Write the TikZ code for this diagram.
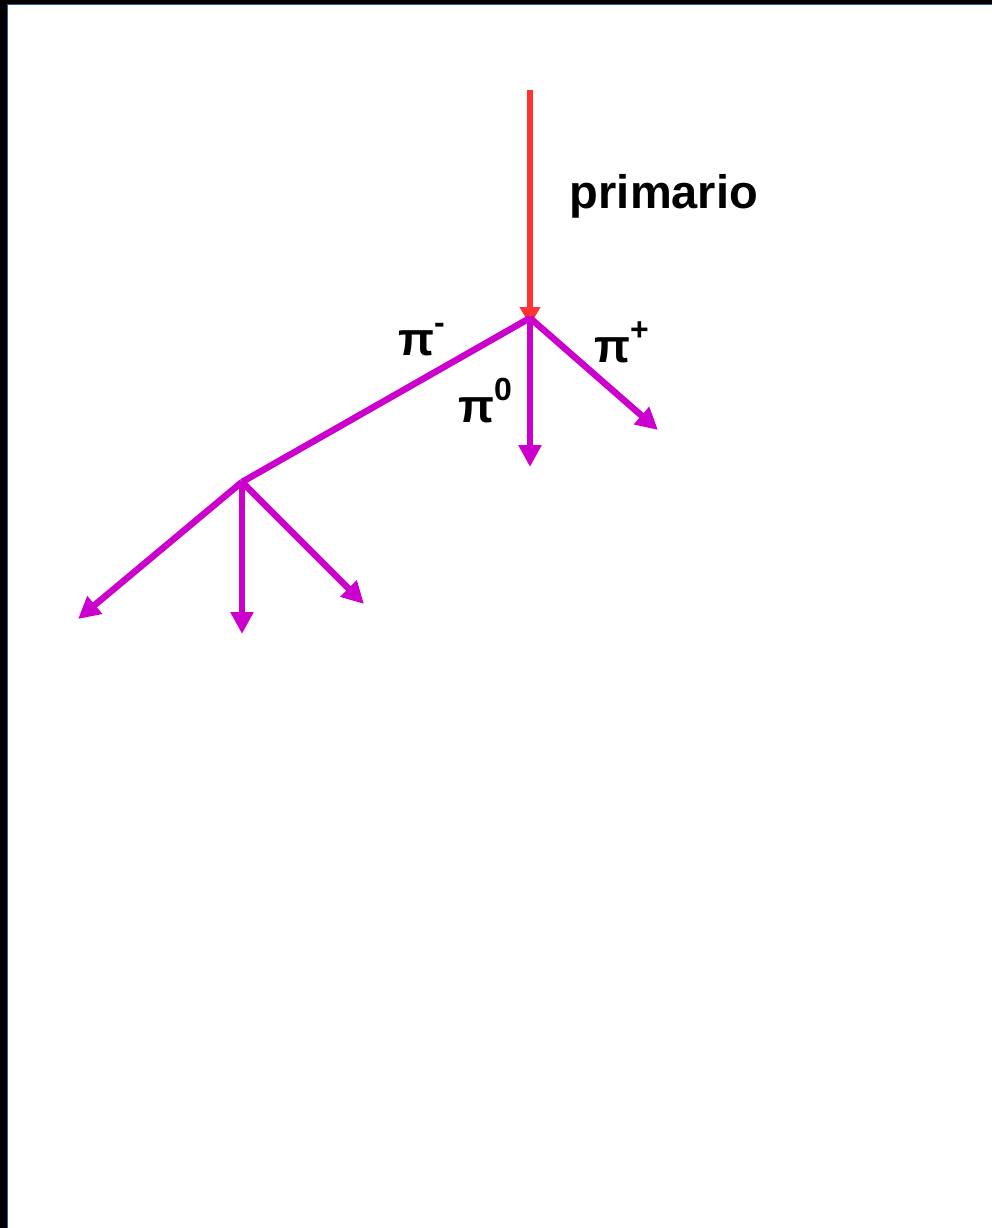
\documentclass[tikz,border=0pt]{standalone}
\usepackage{fontspec}
\setmainfont{Liberation Sans}
\usetikzlibrary{arrows.meta, positioning}
\definecolor{primred}{HTML}{FF3333}
\definecolor{pionmag}{HTML}{CC00CC}
\definecolor{framebl}{HTML}{2E5C9E}
\newcommand{\chg}[1]{\raisebox{22pt}{\fontsize{32}{32}\bfseries\selectfont #1}}

\begin{document}
\begin{tikzpicture}[
    x=1pt, y=-1pt,
    primary/.style = {draw=primred, line width=6.5pt, -{Triangle[length=18pt, width=20pt]}},
    track/.style = {draw=pionmag, line width=6.5pt, -{Triangle[length=22pt, width=22pt]}},
    plain/.style = {draw=pionmag, line width=6.5pt, line cap=butt},
    lbl/.style = {font=\fontsize{47}{56}\bfseries\selectfont, inner sep=0pt, text=black}
]
\useasboundingbox (0,0) rectangle (992,1228);

% Frame
\fill [black] (0,0) rectangle (7,1228);
\fill [black] (0,0) rectangle (992,4);
\draw [framebl, line width=1.2pt] (7.6,1228) -- (7.6,4.6) -- (992,4.6);

% Vertices
\coordinate (top) at (530, 90);
\coordinate (v1) at (530, 318);
\coordinate (v2) at (242, 482);
\coordinate (ppos) at (658, 430);
\coordinate (pzero) at (530, 467);
\coordinate (aleft) at (78, 619);
\coordinate (amid) at (242, 634);
\coordinate (aright) at (364, 604);

% Tracks
\draw [primary] (top) -- (530, 325);
\draw [plain] (v1) -- (v2);
\draw [track] (v1) -- (pzero);
\draw [track] (v1) -- (ppos);
\draw [track] (v2) -- (aleft);
\draw [track] (v2) -- (amid);
\draw [track] (v2) -- (aright);

% Labels
\node (lprim) [lbl] at (664, 196) {primario};
\node (lmin) [lbl, anchor=base west] at (398, 355) {π\chg{-}};
\node (lzero) [lbl, anchor=base west] at (458, 422) {π\chg{0}};
\node (lplus) [lbl, anchor=base west] at (594, 362) {π\chg{+}};

\end{tikzpicture}
\end{document}
